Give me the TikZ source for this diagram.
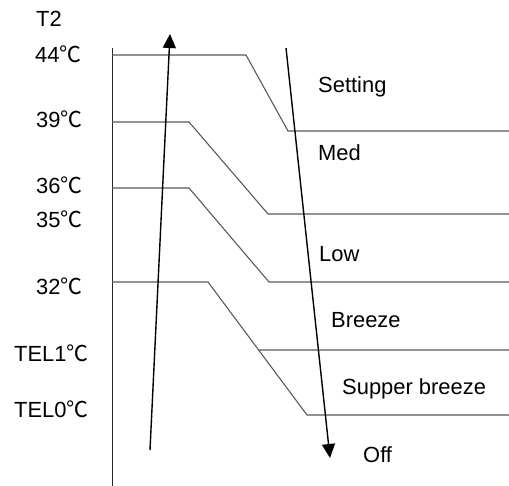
\documentclass[tikz,border=0pt]{standalone}
\usepackage{fontspec}
\setmainfont{Liberation Sans}
\newfontfamily\cjkfont{Noto Sans CJK SC}
\usetikzlibrary{arrows.meta,calc}
\newcommand{\degC}{{\cjkfont ℃}}
\begin{document}
\begin{tikzpicture}[x=1bp,y=-1bp,
  lbl/.style={anchor=base west,inner sep=0pt,font=\fontsize{22}{26}\selectfont},
  stair/.style={draw=black!65,line width=1.1bp},
  axisline/.style={draw=black!85,line width=1bp},
  arr/.style={draw=black,line width=1.4bp,-{Triangle[length=14bp,width=13bp]}}]
\useasboundingbox (0,0) rectangle (509,486);
% axis
\coordinate (axtop) at (112,48);
\coordinate (axbot) at (112,486);
\draw[axisline] (axtop) -- (axbot);
% stair points
\coordinate (a1) at (112,55);  \coordinate (a2) at (246,55);  \coordinate (a3) at (288,131); \coordinate (a4) at (509,131);
\coordinate (b1) at (112,122); \coordinate (b2) at (189,122); \coordinate (b3) at (268,214); \coordinate (b4) at (509,214);
\coordinate (c1) at (112,188); \coordinate (c2) at (189,188); \coordinate (c3) at (269,282); \coordinate (c4) at (509,282);
\coordinate (d1) at (112,282); \coordinate (d2) at (208,282); \coordinate (d3) at (307,415); \coordinate (d4) at (509,415);
\coordinate (e1) at ($(d2)!0.511!(d3)$);
\coordinate (e2) at (509,350);
\draw[stair] (a1) -- (a2) -- (a3) -- (a4);
\draw[stair] (b1) -- (b2) -- (b3) -- (b4);
\draw[stair] (c1) -- (c2) -- (c3) -- (c4);
\draw[stair] (d1) -- (d2) -- (d3) -- (d4);
\draw[stair] (e1) -- (e2);
% arrows
\coordinate (upS) at (150,450); \coordinate (upE) at (170,34);
\coordinate (dnS) at (286,48);  \coordinate (dnE) at (330,458);
\draw[arr] (upS) -- (upE);
\draw[arr] (dnS) -- (dnE);
% left labels
\node[lbl] (t2) at (36,27) {T2};
\node[lbl] (l44) at (35,63) {44\degC};
\node[lbl] (l39) at (36,128) {39\degC};
\node[lbl] (l36) at (36,194) {36\degC};
\node[lbl] (l35) at (36,227) {35\degC};
\node[lbl] (l32) at (36,294) {32\degC};
\node[lbl] (tel1) at (14,361) {TEL1\degC};
\node[lbl] (tel0) at (14,417) {TEL0\degC};
% right labels
\node[lbl] (set) at (318,93) {Setting};
\node[lbl] (med) at (318,161) {Med};
\node[lbl] (low) at (319,261) {Low};
\node[lbl] (brz) at (331,327) {Breeze};
\node[lbl] (sbrz) at (342,394) {Supper breeze};
\node[lbl] (off) at (363,462) {Off};
\end{tikzpicture}
\end{document}
